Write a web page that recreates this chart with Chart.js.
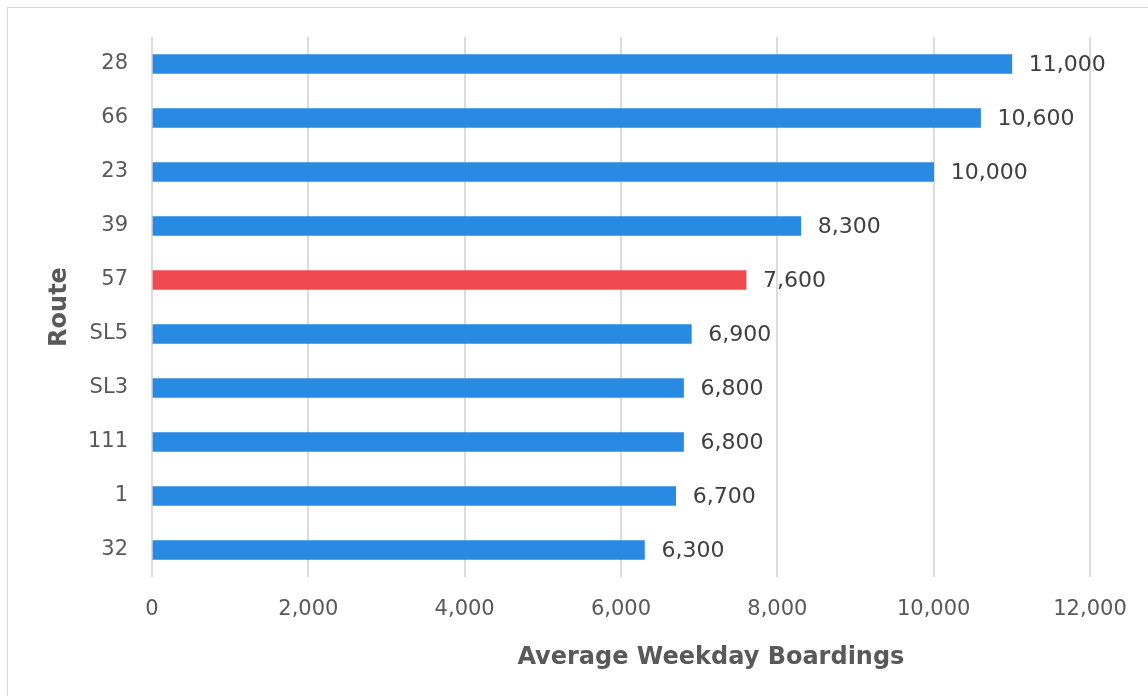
<!DOCTYPE html>
<html>
<head>
<meta charset="utf-8">
<script src="https://cdn.jsdelivr.net/npm/chart.js@4"></script>
<style>
  html, body { margin: 0; padding: 0; background: #fff; overflow: hidden; }
  #wrap { position: relative; width: 1148px; height: 696px; }
  #frame { position: absolute; left: 7px; top: 7px; width: 1200px; height: 760px; border: 1.5px solid #d9d9d9; }
  canvas { position: absolute; left: 0; top: 0; }
</style>
</head>
<body>
<div id="wrap">
  <div id="frame"></div>
  <canvas id="routeChart" width="1148" height="696"></canvas>
</div>
<script>
// Route ridership, top to bottom
const routes = ["28", "66", "23", "39", "57", "SL5", "SL3", "111", "1", "32"];
const boardings = [11000, 10600, 10000, 8300, 7600, 6900, 6800, 6800, 6700, 6300];
const highlightRoute = "57";
const xTicks = [0, 2000, 4000, 6000, 8000, 10000, 12000];
const xTitle = 'Average Weekday Boardings';

const BLUE = '#288ae2';
const RED = '#f04a50';
const FONT = "'DejaVu Sans', sans-serif";

const barColors = routes.map(r => r === highlightRoute ? RED : BLUE);

// Value labels right of each bar, plus the x title (sits right of plot centre in the original)
const valueLabels = {
  id: 'valueLabels',
  afterDatasetsDraw(chart) {
    const ctx = chart.ctx;
    const meta = chart.getDatasetMeta(0);
    ctx.save();
    ctx.font = "22px " + FONT;
    ctx.fillStyle = '#404040';
    ctx.textAlign = 'left';
    ctx.textBaseline = 'middle';
    meta.data.forEach((bar, i) => {
      ctx.fillText(boardings[i].toLocaleString('en-US'), bar.x + 17, bar.y + 1);
    });

    const xs = chart.scales.x;
    ctx.font = "bold 24px " + FONT;
    ctx.fillStyle = '#595959';
    ctx.textAlign = 'center';
    ctx.fillText(xTitle, xs.getPixelForValue(7150), 658);
    ctx.restore();
  }
};

new Chart(document.getElementById("routeChart"), {
  type: 'bar',
  data: {
    labels: routes,
    datasets: [{
      data: boardings,
      backgroundColor: barColors,
      borderWidth: 0,
      barThickness: 19
    }]
  },
  options: {
    indexAxis: 'y',
    responsive: false,
    animation: false,
    layout: { padding: { top: 37, right: 58, left: 0, bottom: 0 } },
    plugins: {
      legend: { display: false },
      tooltip: { enabled: false }
    },
    scales: {
      x: {
        min: 0,
        max: 12000,
        afterBuildTicks: (scale) => { scale.ticks = xTicks.map(v => ({ value: v })); },
        afterFit: (scale) => { scale.height = 119; },
        grid: { color: '#dcdcdc', lineWidth: 2, drawTicks: false },
        border: { display: false },
        ticks: {
          color: '#595959',
          font: { family: FONT, size: 21 },
          padding: 20,
          maxRotation: 0,
          callback: (v) => Number(v).toLocaleString('en-US')
        }
      },
      y: {
        afterFit: (scale) => { scale.width = 152; },
        grid: { display: false, drawTicks: false },
        border: { display: false },
        ticks: {
          color: '#595959',
          font: { family: FONT, size: 21 },
          padding: 24
        },
        title: {
          display: true,
          text: 'Route',
          color: '#595959',
          font: { family: FONT, size: 24, weight: 'bold' },
          padding: { top: 45, bottom: 0 }
        }
      }
    }
  },
  plugins: [valueLabels]
});
</script>
</body>
</html>
